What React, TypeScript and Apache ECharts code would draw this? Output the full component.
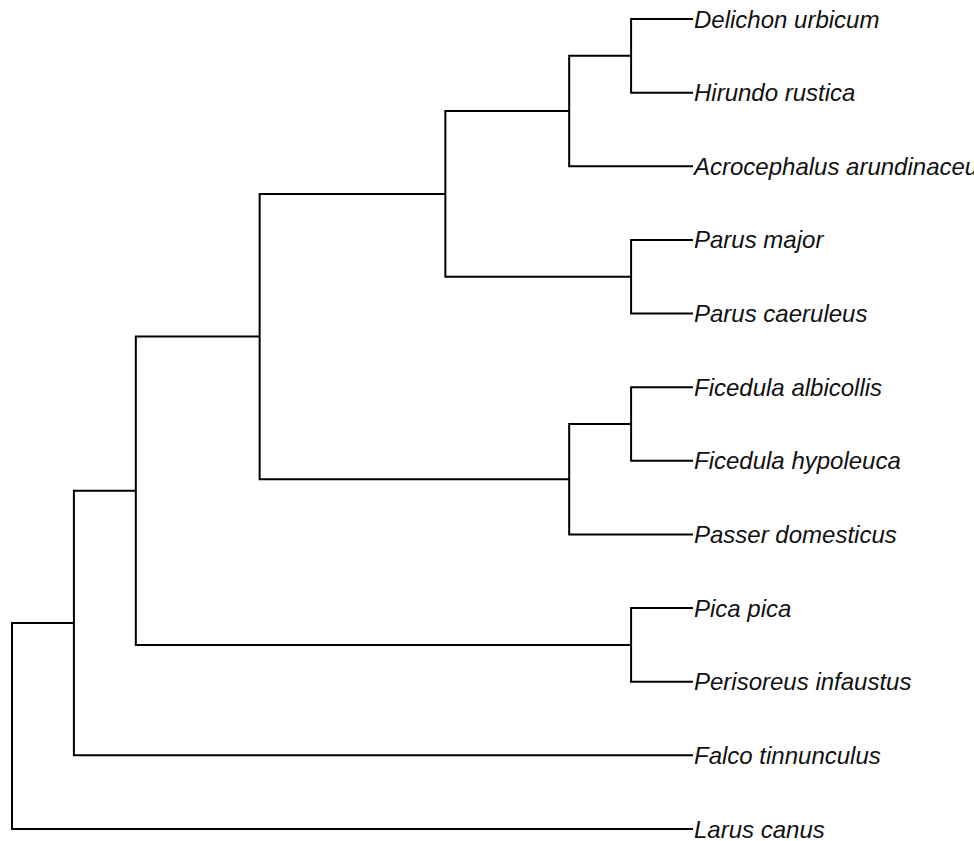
import React, { useEffect, useRef } from "react";
import * as echarts from "echarts";

// Tip labels, top to bottom
const tipLabels = [
  "Delichon urbicum",
  "Hirundo rustica",
  "Acrocephalus arundinaceus",
  "Parus major",
  "Parus caeruleus",
  "Ficedula albicollis",
  "Ficedula hypoleuca",
  "Passer domesticus",
  "Pica pica",
  "Perisoreus infaustus",
  "Falco tinnunculus",
  "Larus canus",
];
const tipDepth = 11;

// Internal nodes (name, depth from root, children)
const nodeNames = ["root", "n1", "n2", "n3", "n4", "n5", "n5a", "n6", "n6a", "n7", "n8"];
const nodeDepths = [0, 1, 2, 4, 7, 9, 10, 9, 10, 10, 10];
const nodeChildren = [
  ["n1", "Larus canus"],
  ["n2", "Falco tinnunculus"],
  ["n3", "n8"],
  ["n4", "n6"],
  ["n5", "n7"],
  ["n5a", "Acrocephalus arundinaceus"],
  ["Delichon urbicum", "Hirundo rustica"],
  ["n6a", "Passer domesticus"],
  ["Ficedula albicollis", "Ficedula hypoleuca"],
  ["Parus major", "Parus caeruleus"],
  ["Pica pica", "Perisoreus infaustus"],
];

function buildTree() {
  const depth: Record<string, number> = {};
  const yPos: Record<string, number> = {};
  tipLabels.forEach((t, i) => {
    depth[t] = tipDepth;
    yPos[t] = tipLabels.length - i;
  });
  nodeNames.forEach((n, i) => (depth[n] = nodeDepths[i]));
  const getY = (name: string): number => {
    if (yPos[name] !== undefined) return yPos[name];
    const idx = nodeNames.indexOf(name);
    const ch = nodeChildren[idx];
    const ys = ch.map(getY);
    yPos[name] = (Math.min(...ys) + Math.max(...ys)) / 2;
    return yPos[name];
  };
  const segs: number[][] = [];
  nodeNames.forEach((n, i) => {
    const [a, b] = nodeChildren[i];
    const d = depth[n];
    const ya = getY(a);
    const yb = getY(b);
    segs.push([depth[a], ya, d, ya, d, yb, depth[b], yb]);
  });
  const tips = tipLabels.map((t) => [tipDepth, yPos[t]]);
  return { segs, tips };
}

export default function App() {
  const ref = useRef<HTMLDivElement>(null);
  useEffect(() => {
    if (!ref.current) return;
    const chart = echarts.init(ref.current, null, { renderer: "svg" });
    const { segs, tips } = buildTree();
    chart.setOption({
      animation: false,
      backgroundColor: "#ffffff",
      grid: { left: 12, right: 281, top: 19, bottom: 12 },
      xAxis: { type: "value", min: 0, max: 11, show: false },
      yAxis: { type: "value", min: 1, max: 12, show: false },
      series: [
        {
          type: "custom",
          data: segs,
          silent: true,
          renderItem: (params: any, api: any) => {
            const pts = [0, 1, 2, 3].map((k) =>
              api.coord([api.value(k * 2), api.value(k * 2 + 1)])
            );
            return {
              type: "polyline",
              shape: { points: pts },
              style: { stroke: "#000", lineWidth: 2, fill: "none", lineJoin: "miter" },
            };
          },
        },
        {
          type: "custom",
          data: tips,
          silent: true,
          renderItem: (params: any, api: any) => {
            const p = api.coord([api.value(0), api.value(1)]);
            return {
              type: "text",
              x: p[0] + 1,
              y: p[1],
              style: {
                text: tipLabels[params.dataIndex],
                fill: "#111",
                fontSize: 24,
                fontStyle: "italic",
                fontFamily: "Liberation Sans, Arial, sans-serif",
                align: "left",
                verticalAlign: "middle",
              },
            };
          },
        },
      ],
    });
    return () => chart.dispose();
  }, []);
  return (
    <div
      ref={ref}
      style={{ position: "fixed", left: 0, top: 0, width: 974, height: 841 }}
    />
  );
}
